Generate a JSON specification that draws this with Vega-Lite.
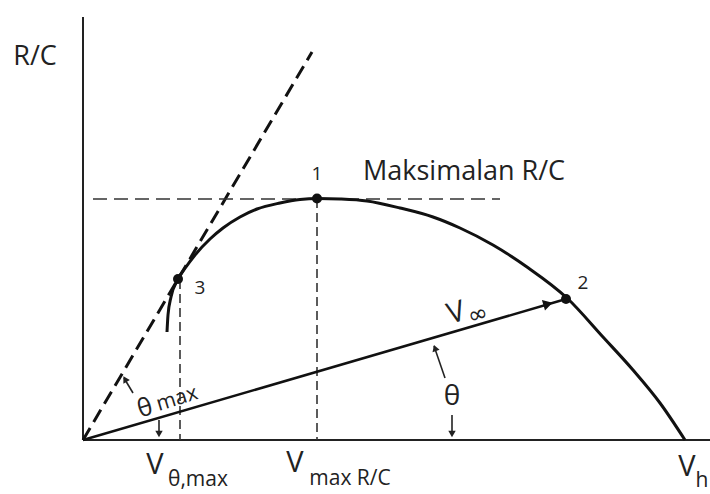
{
  "$schema": "https://vega.github.io/schema/vega-lite/v6.json",
  "width": 710,
  "height": 494,
  "autosize": {"type": "none"},
  "padding": 0,
  "background": "white",
  "config": {"view": {"stroke": null}, "font": "Open Sans"},
  "datasets": {
    "axes": [
      {"x": 0, "y": 0, "x2": 0, "y2": 423},
      {"x": 0, "y": 0, "x2": 627, "y2": 0}
    ],
    "tangent": [{"x": 0, "y": 0, "x2": 229, "y2": 388}],
    "hdash": [{"x": 10, "y": 241, "x2": 417, "y2": 241}],
    "vdash": [
      {"x": 234, "y": 241, "x2": 234, "y2": 0},
      {"x": 97, "y": 160, "x2": 97, "y2": 0}
    ],
    "vinf": [{"x": 0, "y": 0, "x2": 483, "y2": 141}],
    "shafts": [
      {"x": 362, "y": 62, "x2": 351, "y2": 94},
      {"x": 369, "y": 25, "x2": 369, "y2": 5},
      {"x": 50, "y": 47, "x2": 41, "y2": 62},
      {"x": 76, "y": 20, "x2": 76, "y2": 5}
    ],
    "curve": [
      {"x": 84, "y": 108},
      {"x": 85, "y": 125},
      {"x": 88, "y": 143},
      {"x": 95, "y": 161},
      {"x": 103, "y": 173},
      {"x": 112, "y": 185},
      {"x": 127, "y": 201},
      {"x": 140, "y": 212},
      {"x": 157, "y": 223},
      {"x": 174, "y": 231},
      {"x": 197, "y": 237},
      {"x": 217, "y": 240.5},
      {"x": 235, "y": 241.5},
      {"x": 257, "y": 241},
      {"x": 284, "y": 239},
      {"x": 317, "y": 232},
      {"x": 350, "y": 223},
      {"x": 377, "y": 212},
      {"x": 410, "y": 195},
      {"x": 444, "y": 173},
      {"x": 484, "y": 142},
      {"x": 520, "y": 103},
      {"x": 550, "y": 70},
      {"x": 577, "y": 37},
      {"x": 602, "y": 0}
    ],
    "pts": [
      {"x": 234, "y": 241.5, "name": "1"},
      {"x": 483, "y": 141, "name": "2"},
      {"x": 95, "y": 161, "name": "3"}
    ],
    "headInf": [{"x": 465, "y": 136}],
    "headThetaUp": [{"x": 352, "y": 92}],
    "headThetaMaxUp": [{"x": 42, "y": 61}],
    "headDown": [{"x": 369, "y": 6}, {"x": 76, "y": 6}],
    "numLabels": [
      {"x": 234, "y": 266, "t": "1"},
      {"x": 500, "y": 157, "t": "2"},
      {"x": 117, "y": 152, "t": "3"}
    ],
    "titleLeft": [{"x": 280, "y": 268, "t": "Maksimalan R/C"}],
    "titleCenter": [{"x": -48, "y": 383, "t": "R/C"}],
    "bigV": [
      {"x": 72, "y": -25, "t": "V"},
      {"x": 212, "y": -23, "t": "V"},
      {"x": 604, "y": -27, "t": "V"}
    ],
    "subs": [
      {"x": 115, "y": -40, "t": "θ,max"},
      {"x": 267, "y": -39, "t": "max R/C"},
      {"x": 619, "y": -41, "t": "h"}
    ],
    "theta": [{"x": 369, "y": 43, "t": "θ"}],
    "vinfV": [{"x": 373, "y": 127, "t": "V"}],
    "vinfInf": [{"x": 395, "y": 125, "t": "∞"}],
    "thmaxT": [{"x": 62, "y": 32, "t": "θ"}],
    "thmaxM": [{"x": 94, "y": 41, "t": "max"}]
  },
  "encoding": {
    "x": {"field": "x", "type": "quantitative", "scale": {"domain": [-83, 627], "nice": false, "zero": false}, "axis": null},
    "y": {"field": "y", "type": "quantitative", "scale": {"domain": [-54, 440], "nice": false, "zero": false}, "axis": null}
  },
  "layer": [
    {"data": {"name": "axes"}, "mark": {"type": "rule", "color": "#222", "strokeWidth": 2}, "encoding": {"x2": {"field": "x2"}, "y2": {"field": "y2"}}},
    {"data": {"name": "tangent"}, "mark": {"type": "rule", "color": "#111", "strokeWidth": 3, "strokeDash": [14, 7]}, "encoding": {"x2": {"field": "x2"}, "y2": {"field": "y2"}}},
    {"data": {"name": "hdash"}, "mark": {"type": "rule", "color": "#333", "strokeWidth": 1.6, "strokeDash": [14, 7]}, "encoding": {"x2": {"field": "x2"}, "y2": {"field": "y2"}}},
    {"data": {"name": "vdash"}, "mark": {"type": "rule", "color": "#333", "strokeWidth": 1.6, "strokeDash": [9, 5]}, "encoding": {"x2": {"field": "x2"}, "y2": {"field": "y2"}}},
    {"data": {"name": "vinf"}, "mark": {"type": "rule", "color": "#111", "strokeWidth": 2.5}, "encoding": {"x2": {"field": "x2"}, "y2": {"field": "y2"}}},
    {"data": {"name": "shafts"}, "mark": {"type": "rule", "color": "#222", "strokeWidth": 1.6}, "encoding": {"x2": {"field": "x2"}, "y2": {"field": "y2"}}},
    {"data": {"name": "curve"}, "mark": {"type": "line", "color": "#111", "strokeWidth": 3, "interpolate": "monotone"}, "encoding": {}},
    {"data": {"name": "pts"}, "mark": {"type": "point", "filled": true, "color": "#111", "size": 100, "opacity": 1}, "encoding": {}},
    {"data": {"name": "headInf"}, "mark": {"type": "point", "shape": "triangle-right", "filled": true, "color": "#111", "size": 120, "angle": 343.7, "opacity": 1}, "encoding": {}},
    {"data": {"name": "headThetaUp"}, "mark": {"type": "point", "shape": "triangle-up", "filled": true, "color": "#222", "size": 55, "angle": 341, "opacity": 1}, "encoding": {}},
    {"data": {"name": "headThetaMaxUp"}, "mark": {"type": "point", "shape": "triangle-up", "filled": true, "color": "#222", "size": 55, "angle": 330, "opacity": 1}, "encoding": {}},
    {"data": {"name": "headDown"}, "mark": {"type": "point", "shape": "triangle-down", "filled": true, "color": "#222", "size": 55, "opacity": 1}, "encoding": {}},
    {"data": {"name": "numLabels"}, "mark": {"type": "text", "fontSize": 19, "color": "#222", "align": "center", "baseline": "middle"}, "encoding": {"text": {"field": "t"}}},
    {"data": {"name": "titleLeft"}, "mark": {"type": "text", "fontSize": 27, "color": "#222", "align": "left", "baseline": "middle"}, "encoding": {"text": {"field": "t"}}},
    {"data": {"name": "titleCenter"}, "mark": {"type": "text", "fontSize": 27, "color": "#222", "align": "center", "baseline": "middle"}, "encoding": {"text": {"field": "t"}}},
    {"data": {"name": "bigV"}, "mark": {"type": "text", "fontSize": 29, "color": "#222", "align": "center", "baseline": "middle"}, "encoding": {"text": {"field": "t"}}},
    {"data": {"name": "subs"}, "mark": {"type": "text", "fontSize": 21, "color": "#222", "align": "center", "baseline": "middle"}, "encoding": {"text": {"field": "t"}}},
    {"data": {"name": "theta"}, "mark": {"type": "text", "fontSize": 28, "color": "#222", "align": "center", "baseline": "middle"}, "encoding": {"text": {"field": "t"}}},
    {"data": {"name": "vinfV"}, "mark": {"type": "text", "fontSize": 29, "color": "#222", "align": "center", "baseline": "middle", "angle": 344}, "encoding": {"text": {"field": "t"}}},
    {"data": {"name": "vinfInf"}, "mark": {"type": "text", "fontSize": 24, "font": "DejaVu Sans", "color": "#222", "align": "center", "baseline": "middle", "angle": 344}, "encoding": {"text": {"field": "t"}}},
    {"data": {"name": "thmaxT"}, "mark": {"type": "text", "fontSize": 25, "color": "#222", "align": "center", "baseline": "middle", "angle": 343}, "encoding": {"text": {"field": "t"}}},
    {"data": {"name": "thmaxM"}, "mark": {"type": "text", "fontSize": 21, "color": "#222", "align": "center", "baseline": "middle", "angle": 343}, "encoding": {"text": {"field": "t"}}}
  ]
}
